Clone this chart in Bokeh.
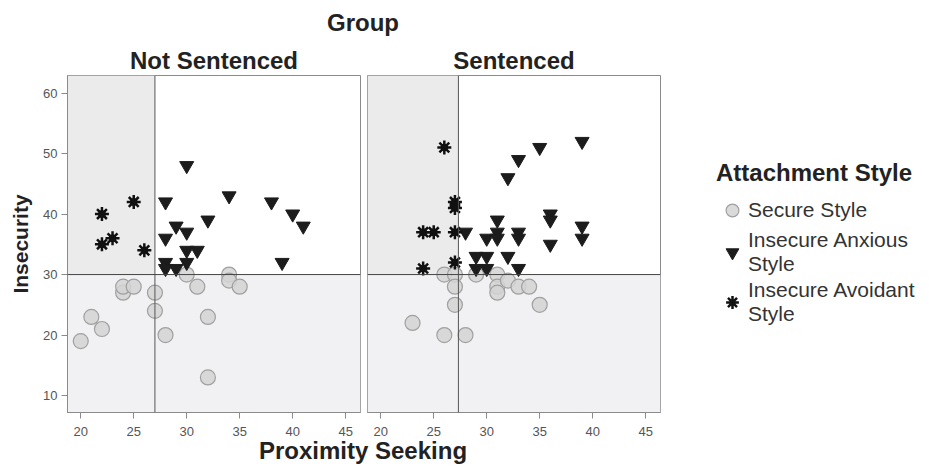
from bokeh.plotting import figure
from bokeh.layouts import row, column
from bokeh.models import Range1d, Span, Label, Legend, LegendItem, FixedTicker
from bokeh.embed import file_html
from bokeh.resources import INLINE

FONT = "Liberation Sans"

# ---------------- data ----------------
groups = ["Not Sentenced", "Sentenced"]
style_labels = ["Secure Style", "Insecure Anxious\nStyle", "Insecure Avoidant\nStyle"]
x_ticks = [20, 25, 30, 35, 40, 45]
y_ticks = [10, 20, 30, 40, 50, 60]
x_lim = (18.75, 46.4)
y_lim = (7.2, 62.9)

# reference lines (Proximity Seeking, Insecurity) per group
ref_prox = [27.0, 27.33]
ref_insec = [30.0, 30.0]

# Not Sentenced
ns_secure_x = [20, 21, 22, 24, 24, 25, 27, 27, 28, 30, 31, 32, 32, 34, 34, 35]
ns_secure_y = [19, 23, 21, 27, 28, 28, 27, 24, 20, 30, 28, 23, 13, 30, 29, 28]
ns_anxious_x = [30, 28, 34, 38, 40, 41, 32, 29, 30, 28, 30, 31, 28, 28, 29, 30, 39]
ns_anxious_y = [48, 42, 43, 42, 40, 38, 39, 38, 37, 36, 34, 34, 32, 31, 31, 32, 32]
ns_avoidant_x = [22, 25, 22, 23, 26]
ns_avoidant_y = [40, 42, 35, 36, 34]

# Sentenced
s_secure_x = [23, 26, 28, 27, 26, 27, 27, 29, 31, 31, 31, 32, 33, 34, 35]
s_secure_y = [22, 20, 20, 25, 30, 30, 28, 30, 30, 28, 27, 29, 28, 28, 25]
s_anxious_x = [39, 35, 33, 32, 36, 36, 31, 28, 31, 30, 31, 33, 33, 39, 39, 36, 29, 30, 32, 29, 30, 33]
s_anxious_y = [52, 51, 49, 46, 40, 39, 39, 37, 37, 36, 36, 37, 36, 38, 36, 35, 33, 33, 33, 31, 31, 31]
s_avoidant_x = [26, 27, 27, 24, 25, 27, 24, 27]
s_avoidant_y = [51, 42, 41, 37, 37, 37, 31, 32]

panel_data = [
    (ns_secure_x, ns_secure_y, ns_anxious_x, ns_anxious_y, ns_avoidant_x, ns_avoidant_y),
    (s_secure_x, s_secure_y, s_anxious_x, s_anxious_y, s_avoidant_x, s_avoidant_y),
]

# ---------------- styles ----------------
SECURE = dict(marker="circle", size=15, fill_color="#d4d4d4", line_color="#a0a0a0",
              fill_alpha=0.85, line_width=1.2)
ANXIOUS = dict(marker="inverted_triangle", size=14, fill_color="#1c1c1c", line_color="#1c1c1c")
AVOID_CORE = dict(marker="circle", size=7, fill_color="#111111", line_color="#111111")
AVOID_RAYS = dict(marker="asterisk", size=14, line_color="#111111", line_width=2.5)

TOTAL_W = 929
FRAME_W = 293
FRAME_H = 337
TOP_B = 35
BOT_B = 26
PANEL_H = TOP_B + FRAME_H + BOT_B
L_W = 67 + FRAME_W + 3
R_W = 4 + FRAME_W + 3
LEG_W = TOTAL_W - L_W - R_W


def style_axis(ax, ticks):
    ax.ticker = FixedTicker(ticks=ticks)
    ax.major_label_text_font = FONT
    ax.major_label_text_font_size = "13px"
    ax.major_label_text_color = "#555555"
    ax.major_tick_out = 6
    ax.major_tick_in = 0
    ax.minor_tick_out = 0
    ax.minor_tick_in = 0
    ax.axis_line_color = "#8a8a8a"
    ax.major_tick_line_color = "#8a8a8a"


def make_panel(i, show_y, border_left, border_right):
    p = figure(width=border_left + FRAME_W + border_right, height=PANEL_H,
               x_range=Range1d(*x_lim), y_range=Range1d(*y_lim),
               output_backend="svg", toolbar_location=None, title=groups[i],
               min_border_top=TOP_B, min_border_bottom=BOT_B,
               min_border_left=border_left, min_border_right=border_right,
               y_axis_location="left" if show_y else None)
    p.title.text_font = FONT
    p.title.text_font_size = "24px"
    p.title.text_font_style = "bold"
    p.title.text_color = "#222222"
    p.title.align = "center"
    p.title.standoff = 3
    p.grid.visible = False
    p.outline_line_color = "#8a8a8a"
    p.background_fill_color = "white"
    p.border_fill_color = "white"

    # background zones
    p.quad(left=x_lim[0], right=ref_prox[i], bottom=ref_insec[i], top=y_lim[1],
           fill_color="#ebebeb", line_color=None)
    p.quad(left=x_lim[0], right=x_lim[1], bottom=y_lim[0], top=ref_insec[i],
           fill_color="#f1f1f3", line_color=None)

    p.add_layout(Span(location=ref_prox[i], dimension="height", line_color="#555555", line_width=1))
    p.add_layout(Span(location=ref_insec[i], dimension="width", line_color="#444444", line_width=1))

    sx, sy, ax_, ay, vx, vy = panel_data[i]
    p.scatter(sx, sy, **SECURE)
    p.scatter(ax_, ay, **ANXIOUS)
    p.scatter(vx, vy, **AVOID_RAYS)
    p.scatter(vx, vy, **AVOID_CORE)

    style_axis(p.xaxis[0], x_ticks)
    p.xaxis[0].major_label_standoff = 8
    if show_y:
        ya = p.yaxis[0]
        style_axis(ya, y_ticks)
        ya.major_label_standoff = 4
        ya.axis_label = "Insecurity"
        ya.axis_label_text_font = FONT
        ya.axis_label_text_font_size = "21px"
        ya.axis_label_text_font_style = "bold"
        ya.axis_label_text_color = "#222222"
        ya.axis_label_standoff = 8
    return p


left = make_panel(0, True, 67, 3)
right = make_panel(1, False, 4, 3)

# legend figure: invisible copies of the Sentenced series act as legend sources
lf = figure(width=LEG_W, height=PANEL_H, x_range=Range1d(*x_lim), y_range=Range1d(*y_lim),
            output_backend="svg", toolbar_location=None, min_border=0,
            x_axis_location=None, y_axis_location=None, outline_line_color=None)
lf.grid.visible = False
rs = lf.scatter(s_secure_x, s_secure_y, visible=False, **SECURE)
ra = lf.scatter(s_anxious_x, s_anxious_y, visible=False, **ANXIOUS)
rv = lf.scatter(s_avoidant_x, s_avoidant_y, visible=False, **AVOID_RAYS)

leg = Legend(items=[LegendItem(label=style_labels[0], renderers=[rs]),
                    LegendItem(label=style_labels[1], renderers=[ra]),
                    LegendItem(label=style_labels[2], renderers=[rv])],
             title="Attachment Style", location=(53, 86), margin=0, padding=0,
             border_line_color=None, background_fill_alpha=0, inactive_fill_alpha=0,
             title_text_font=FONT, title_text_font_size="24px", title_text_font_style="bold",
             title_text_color="#222222", title_standoff=7,
             label_text_font=FONT, label_text_font_size="21px", label_text_color="#333333",
             label_text_line_height=1.05,
             glyph_width=32, glyph_height=32, label_standoff=0, spacing=2)
lf.add_layout(leg)


def text_strip(h, text, center_from_bottom):
    f = figure(width=TOTAL_W, height=h, x_range=Range1d(0, TOTAL_W), y_range=Range1d(0, h),
               output_backend="svg", toolbar_location=None, min_border=0,
               x_axis_location=None, y_axis_location=None, outline_line_color=None)
    f.grid.visible = False
    f.add_layout(Label(x=362.5, y=center_from_bottom, text=text, text_align="center",
                       text_baseline="middle", text_font=FONT, text_font_size="24px",
                       text_font_style="bold", text_color="#222222"))
    return f


header = text_strip(40, "Group", 18.5)
footer = text_strip(35, "Proximity Seeking", 23)

layout = column(header, row(left, right, lf), footer)

open("out.html", "w").write(file_html(layout, INLINE))
